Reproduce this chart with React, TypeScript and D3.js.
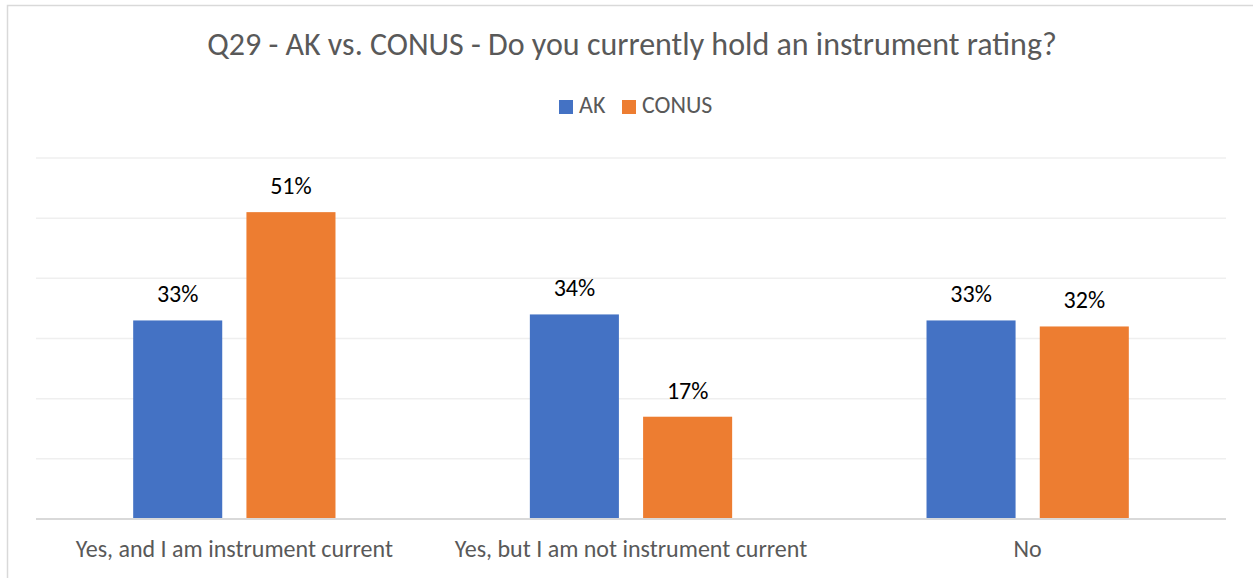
import React from "react";
import * as d3 from "d3";

const categories = ["Yes, and I am instrument current", "Yes, but I am not instrument current", "No"];
const seriesNames = ["AK", "CONUS"];
const akValues = [33, 34, 33];
const conusValues = [51, 17, 32];
const yTicks = [0, 10, 20, 30, 40, 50, 60];
const colors = ["#4472C4", "#ED7D31"];

const W = 1253;
const H = 578;
const FONT = "Calibri, Carlito, 'Open Sans', sans-serif";

export default function App() {
  const plot = { left: 36, right: 1226, top: 158, bottom: 519 };
  const x0 = d3.scaleBand<string>().domain(categories).range([plot.left, plot.right]).paddingInner(0).paddingOuter(0);
  const bw = x0.bandwidth();
  const barW = bw * 0.2245;
  const gap = bw * 0.061;
  const y = d3.scaleLinear().domain([0, 60]).range([plot.bottom, plot.top]);
  const series = [akValues, conusValues];

  return (
    <svg width={W} height={H} style={{ position: "absolute", left: 0, top: 0, background: "#fff" }} fontFamily={FONT}>
      <rect x={7.5} y={5.5} width={W} height={H} fill="#fff" stroke="#d9d9d9" strokeWidth={1.5} />
      <text x={632} y={55} textAnchor="middle" fontSize={32} fill="#595959">
        Q29 - AK vs. CONUS - Do you currently hold an instrument rating?
      </text>
      {/* legend */}
      <g>
        <rect x={559} y={100} width={14} height={14} fill={colors[0]} />
        <text x={579} y={113} fontSize={24} fill="#595959">{seriesNames[0]}</text>
        <rect x={622} y={100} width={14} height={14} fill={colors[1]} />
        <text x={642} y={113} fontSize={24} fill="#595959">{seriesNames[1]}</text>
      </g>
      {yTicks.map((t) => (
        <line key={t} x1={plot.left} x2={plot.right} y1={y(t)} y2={y(t)}
          stroke={t === 0 ? "#d9d9d9" : "#efefef"} strokeWidth={t === 0 ? 2 : 1.5} />
      ))}
      {categories.map((c, i) => {
        const start = (x0(c) as number) + (bw - (2 * barW + gap)) / 2;
        return (
          <g key={c}>
            {series.map((vals, s) => {
              const bx = start + s * (barW + gap);
              const v = vals[i];
              return (
                <g key={s}>
                  <rect x={bx} y={y(v)} width={barW} height={y(0) - y(v) - 1} fill={colors[s]} />
                  <text x={bx + barW / 2} y={y(v) - 18} textAnchor="middle" fontSize={24} fill="#000">
                    {v}%
                  </text>
                </g>
              );
            })}
            <text x={(x0(c) as number) + bw / 2} y={557} textAnchor="middle" fontSize={24} fill="#595959">
              {c}
            </text>
          </g>
        );
      })}
    </svg>
  );
}
